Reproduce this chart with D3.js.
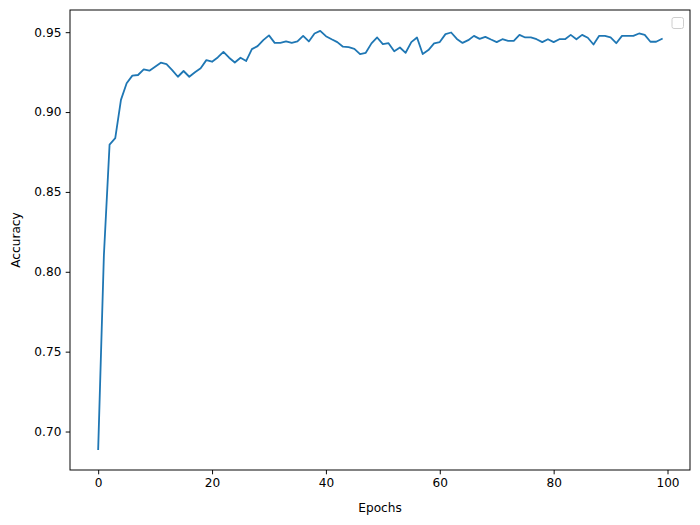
<!DOCTYPE html>
<html>
<head>
<meta charset="utf-8">
<script src="https://cdn.jsdelivr.net/npm/d3@7"></script>
<style>
html,body{margin:0;padding:0;background:#fff;}
svg{display:block;}
text{font-family:"DejaVu Sans",sans-serif;}
</style>
</head>
<body>
<svg id="chart" width="700" height="525"></svg>
<script>
const accuracy = [
  0.689, 0.810, 0.8796, 0.8837, 0.9076, 0.918, 0.9228, 0.9232, 0.9267, 0.9259,
  0.9284, 0.9309, 0.9300, 0.9263, 0.9221, 0.9257, 0.9221, 0.9249, 0.9274, 0.9325,
  0.9315, 0.9342, 0.9377, 0.9340, 0.9310, 0.9340, 0.9320, 0.9394, 0.9413, 0.9450,
  0.9480, 0.9433, 0.9433, 0.9442, 0.9433, 0.9442, 0.9477, 0.9442, 0.9492, 0.9508,
  0.9475, 0.9456, 0.9438, 0.9409, 0.9406, 0.9396, 0.9363, 0.9371, 0.9430, 0.9467,
  0.9425, 0.9431, 0.9380, 0.9404, 0.9371, 0.9438, 0.9467, 0.9363, 0.9388, 0.9430,
  0.9438, 0.9488, 0.9498, 0.9458, 0.9433, 0.9450, 0.9477, 0.9458, 0.9471, 0.9454,
  0.9438, 0.9456, 0.9446, 0.9446, 0.9483, 0.9467, 0.9467, 0.9456, 0.9438, 0.9456,
  0.9438, 0.9456, 0.9456, 0.9483, 0.9456, 0.9483, 0.9465, 0.9423, 0.9477, 0.9477,
  0.9467, 0.9431, 0.9477, 0.9477, 0.9477, 0.9492, 0.9483, 0.9440, 0.9440, 0.9458
];
const epochs = accuracy.map((d, i) => i);
const xTicks = [0, 20, 40, 60, 80, 100];
const yTicks = [0.70, 0.75, 0.80, 0.85, 0.90, 0.95];
const xLabel = "Epochs";
const yLabel = "Accuracy";

const W = 700, H = 525;
const m = {left: 70, right: 10, top: 10, bottom: 55};
const iw = W - m.left - m.right, ih = H - m.top - m.bottom;

const svg = d3.select("#chart");
const g = svg.append("g").attr("transform", `translate(${m.left},${m.top})`);

const xmin = d3.min(epochs), xmax = d3.max(epochs);
const xpad = (xmax - xmin) * 0.05;
const ymin = d3.min(accuracy), ymax = d3.max(accuracy);
const ypad = (ymax - ymin) * 0.05;

const x = d3.scaleLinear().domain([xmin - xpad, xmax + xpad]).range([0, iw]);
const y = d3.scaleLinear().domain([ymin - ypad, ymax + ypad]).range([ih, 0]);

const fs = 12.15;
const tickLen = 4.3;

// line
g.append("path")
  .datum(accuracy)
  .attr("fill", "none")
  .attr("stroke", "#1f77b4")
  .attr("stroke-width", 1.8)
  .attr("stroke-linejoin", "round")
  .attr("stroke-linecap", "square")
  .attr("d", d3.line().x((d, i) => x(epochs[i])).y(d => y(d)));

// axes
const xAxis = d3.axisBottom(x).tickValues(xTicks).tickFormat(d3.format("d")).tickSize(tickLen).tickPadding(4.3);
const yAxis = d3.axisLeft(y).tickValues(yTicks).tickFormat(d3.format(".2f")).tickSize(tickLen).tickPadding(4.3);

const gx = g.append("g").attr("transform", `translate(0,${ih})`).call(xAxis);
const gy = g.append("g").call(yAxis);
[gx, gy].forEach(a => {
  a.select(".domain").remove();
  a.selectAll("line").attr("stroke", "#000").attr("stroke-width", 0.97);
  a.selectAll("text").attr("fill", "#000").style("font-size", fs + "px").style("font-family", "DejaVu Sans, sans-serif");
});

// frame
g.append("rect").attr("x", 0).attr("y", 0).attr("width", iw).attr("height", ih)
  .attr("fill", "none").attr("stroke", "#000").attr("stroke-width", 0.97);

// labels
svg.append("text").attr("x", m.left + iw / 2).attr("y", 512)
  .attr("text-anchor", "middle").style("font-size", fs + "px").text(xLabel);
svg.append("text").attr("transform", `translate(20,${m.top + ih / 2}) rotate(-90)`)
  .attr("text-anchor", "middle").style("font-size", fs + "px").text(yLabel);

// empty legend box
g.append("rect").attr("x", iw - 18).attr("y", 7.5).attr("width", 11.5).attr("height", 11)
  .attr("rx", 2).attr("ry", 2)
  .attr("fill", "#fff").attr("fill-opacity", 0.8)
  .attr("stroke", "#cccccc").attr("stroke-width", 0.97);
</script>
</body>
</html>
